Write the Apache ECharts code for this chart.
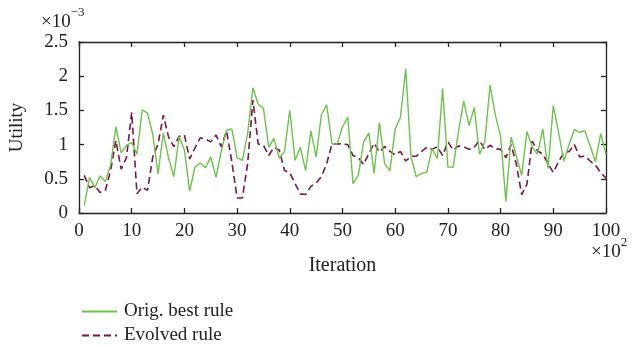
<!DOCTYPE html>
<html>
<head>
<meta charset="utf-8">
<script src="https://cdn.jsdelivr.net/npm/echarts@6/dist/echarts.min.js"></script>
<style>
  html, body { margin: 0; padding: 0; background: #fff; }
  #chart { width: 634px; height: 347px; }
</style>
</head>
<body>
<div id="chart"></div>
<script>
// iteration index (x 10^2)
var iterations = []
for (var i = 1; i <= 100; i++) iterations.push(i)

// utility values (x 10^-3)
var origBest = [
  0.11, 0.52, 0.37, 0.54, 0.46, 0.70, 1.26, 0.88, 0.99, 1.03,
  0.86, 1.51, 1.46, 1.15, 0.57, 1.17, 0.80, 0.53, 1.12, 0.92,
  0.32, 0.67, 0.73, 0.66, 0.82, 0.52, 0.91, 1.21, 1.23, 0.81,
  0.77, 1.16, 1.83, 1.59, 1.53, 0.96, 1.09, 0.80, 0.90, 1.50,
  0.77, 0.96, 0.62, 1.20, 0.82, 1.44, 1.58, 1.01, 1.01, 1.26,
  1.40, 0.43, 0.55, 1.04, 1.17, 0.58, 1.32, 0.72, 0.62, 1.23,
  1.40, 2.11, 0.82, 0.53, 0.58, 0.60, 0.94, 0.80, 1.82, 0.67,
  0.67, 1.19, 1.64, 1.28, 1.54, 0.86, 1.04, 1.87, 1.43, 1.12,
  0.17, 1.11, 0.83, 0.55, 1.19, 0.96, 0.86, 1.23, 0.65, 1.57,
  1.18, 0.76, 1.00, 1.22, 1.18, 1.20, 0.98, 0.75, 1.16, 0.86
]
var evolved = [
  0.55, 0.37, 0.40, 0.30, 0.33, 0.62, 1.06, 0.64, 0.81, 1.47,
  0.28, 0.38, 0.33, 0.82, 1.01, 1.43, 1.11, 0.97, 1.12, 1.14,
  0.79, 0.95, 1.10, 1.08, 1.04, 1.14, 0.97, 1.20, 0.75, 0.22,
  0.22, 0.72, 1.65, 1.01, 0.99, 0.84, 0.96, 0.92, 0.62, 0.59,
  0.43, 0.28, 0.27, 0.39, 0.44, 0.53, 0.72, 1.01, 1.01, 1.01,
  1.00, 0.84, 0.81, 0.71, 0.87, 1.02, 0.89, 0.97, 0.90, 0.85,
  0.90, 0.76, 0.83, 0.83, 0.90, 0.96, 0.93, 0.97, 0.84, 1.04,
  0.92, 0.98, 0.97, 0.93, 0.96, 1.06, 0.93, 0.99, 0.94, 0.93,
  0.81, 1.00, 0.71, 0.27, 0.42, 1.05, 0.91, 0.86, 0.72, 0.59,
  0.75, 0.88, 0.90, 1.00, 0.82, 0.83, 0.76, 0.70, 0.59, 0.51
]

var seriesNames = ['Orig. best rule', 'Evolved rule']

var font = 'Liberation Serif'
var chart = echarts.init(document.getElementById('chart'), null, { renderer: 'canvas' })

function pairs(ys) {
  return iterations.map(function(x, k) { return [x, ys[k]] })
}

var frameLine = { show: true, onZero: false, lineStyle: { color: '#222', width: 1.3 } }
var inTick = { show: true, inside: true, length: 5, lineStyle: { color: '#222', width: 1.3 } }

chart.setOption({
  backgroundColor: '#fff',
  animation: false,
  grid: { left: 76, right: 28, top: 42, bottom: 134 },
  legend: {
    orient: 'vertical',
    left: 76,
    top: 297,
    height: 70,
    itemWidth: 35,
    itemHeight: 14,
    itemGap: 5,
    data: seriesNames,
    itemStyle: { opacity: 0 },
    textStyle: { fontFamily: font, fontSize: 19, color: '#222', padding: [0, 0, 0, 2] }
  },
  xAxis: [{
    type: 'value',
    min: 0,
    max: 100,
    interval: 10,
    name: 'Iteration',
    nameLocation: 'middle',
    nameGap: 43,
    nameTextStyle: { fontFamily: font, fontSize: 20, color: '#222' },
    axisLine: frameLine,
    axisTick: inTick,
    splitLine: { show: false },
    axisLabel: { fontFamily: font, fontSize: 19, color: '#222', margin: 9 }
  }, {
    type: 'value',
    position: 'top',
    min: 0,
    max: 100,
    interval: 10,
    axisLine: frameLine,
    axisTick: inTick,
    splitLine: { show: false },
    axisLabel: { show: false }
  }],
  yAxis: [{
    type: 'value',
    min: 0,
    max: 2.5,
    interval: 0.5,
    name: 'Utility',
    nameLocation: 'middle',
    nameGap: 52,
    nameTextStyle: { fontFamily: font, fontSize: 19, color: '#222' },
    axisLine: frameLine,
    axisTick: inTick,
    splitLine: { show: false },
    axisLabel: { fontFamily: font, fontSize: 19, color: '#222', margin: 11 }
  }, {
    type: 'value',
    position: 'right',
    min: 0,
    max: 2.5,
    interval: 0.5,
    axisLine: frameLine,
    axisTick: inTick,
    splitLine: { show: false },
    axisLabel: { show: false }
  }],
  graphic: [{
    type: 'text',
    left: 41,
    top: 6,
    style: {
      text: '{a|×10}{b|−3}',
      rich: {
        a: { fontFamily: font, fontSize: 19, fill: '#222', padding: [7, 0, 0, 0] },
        b: { fontFamily: font, fontSize: 13, fill: '#222', verticalAlign: 'top' }
      }
    }
  }, {
    type: 'text',
    left: 591,
    top: 236,
    style: {
      text: '{a|×10}{b|2}',
      rich: {
        a: { fontFamily: font, fontSize: 19, fill: '#222', padding: [7, 0, 0, 0] },
        b: { fontFamily: font, fontSize: 13, fill: '#222', verticalAlign: 'top' }
      }
    }
  }],
  series: [{
    name: seriesNames[0],
    type: 'line',
    data: pairs(origBest),
    showSymbol: false,
    symbol: 'none',
    color: '#6cc24a',
    lineStyle: { color: '#6cc24a', width: 1.4 },
    z: 3
  }, {
    name: seriesNames[1],
    type: 'line',
    data: pairs(evolved),
    showSymbol: false,
    symbol: 'none',
    color: '#7a1548',
    lineStyle: { color: '#7a1548', width: 1.6, type: [7, 4] },
    z: 2
  }]
})
</script>
</body>
</html>
